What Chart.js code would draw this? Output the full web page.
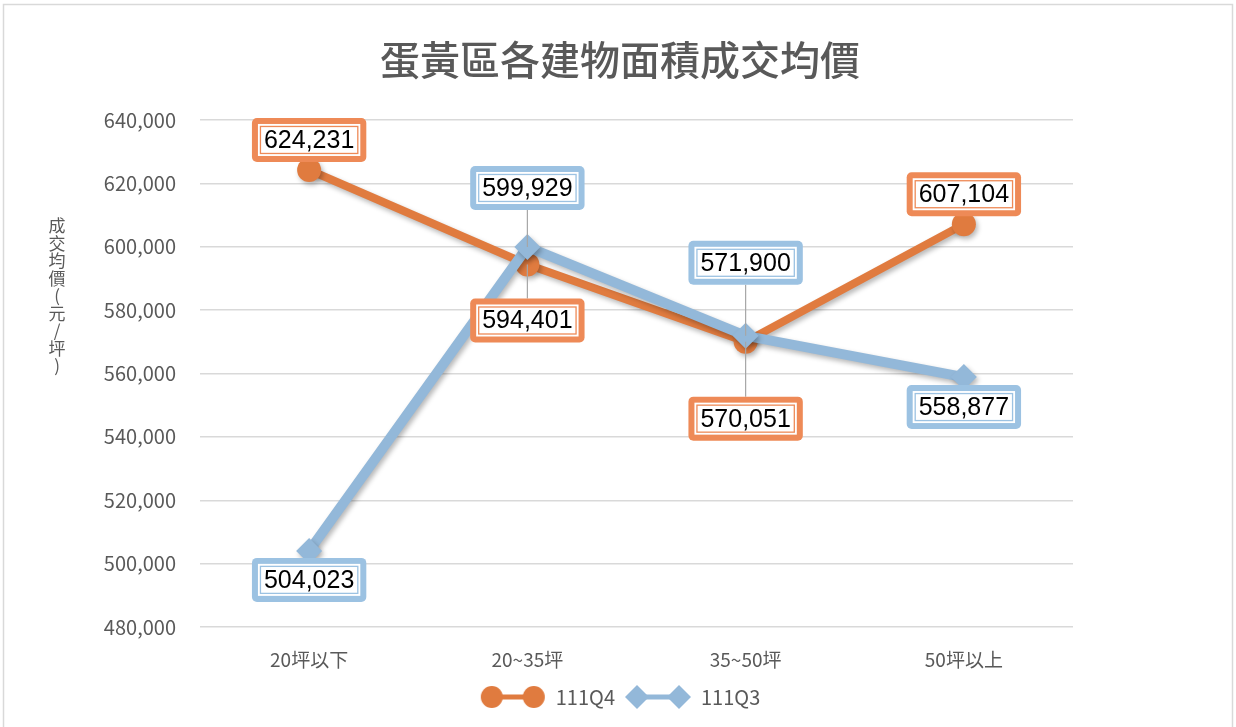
<!DOCTYPE html>
<html>
<head>
<meta charset="utf-8">
<script src="https://cdn.jsdelivr.net/npm/chart.js@4.4.0/dist/chart.umd.min.js"></script>
<style>
  body { margin: 0; background: #fff; }
  #wrap { width: 1236px; height: 727px; }
</style>
</head>
<body>
<div id="wrap"><canvas id="price_chart" width="1236" height="727"></canvas></div>
<script>
// 面積分類
const categories = ["20坪以下", "20~35坪", "35~50坪", "50坪以上"];
// 成交均價 (元/坪)
const q4Values = [624231, 594401, 570051, 607104];
const q3Values = [504023, 599929, 571900, 558877];
const chartTitle = "蛋黃區各建物面積成交均價";
const yTitle = "成交均價(元/坪)";

// label placement (px from point, vertical)
const q4LabelOffset = [-30, 56, 77, -30];
const q3LabelOffset = [29, -59, -73, 30];

const ORANGE = "#E07B3F";
const ORANGE_BOX = "#EE8A57";
const BLUE = "#93B8D9";
const BLUE_BOX = "#9CC2E2";
const GRAY = "#595959";
const CJK = "'Noto Sans CJK TC', 'Noto Sans', sans-serif";

function makeLegendIcon(color, style) {
  let c = document.createElement("canvas");
  c.width = 66;
  c.height = 26;
  let g = c.getContext("2d");
  g.strokeStyle = color;
  g.fillStyle = color;
  g.lineWidth = 5;
  g.beginPath();
  g.moveTo(12, 13);
  g.lineTo(54, 13);
  g.stroke();
  [12, 54].forEach(function (x) {
    g.beginPath();
    if (style === "circle") {
      g.arc(x, 13, 11, 0, Math.PI * 2);
    } else {
      g.moveTo(x, 1);
      g.lineTo(x + 12, 13);
      g.lineTo(x, 25);
      g.lineTo(x - 12, 13);
      g.closePath();
    }
    g.fill();
  });
  return c;
}

const legendIcons = [makeLegendIcon(ORANGE, "circle"), makeLegendIcon(BLUE, "diamond")];

function roundRect(ctx, x, y, w, h, r) {
  ctx.beginPath();
  ctx.moveTo(x + r, y);
  ctx.arcTo(x + w, y, x + w, y + h, r);
  ctx.arcTo(x + w, y + h, x, y + h, r);
  ctx.arcTo(x, y + h, x, y, r);
  ctx.arcTo(x, y, x + w, y, r);
  ctx.closePath();
}

const frame = {
  id: "frame",
  beforeDraw(chart) {
    let ctx = chart.ctx;
    ctx.save();
    ctx.fillStyle = "#fff";
    ctx.fillRect(0, 0, chart.width, chart.height);
    ctx.strokeStyle = "#d9d9d9";
    ctx.lineWidth = 1.5;
    ctx.strokeRect(3.5, 4.5, 1229, 740);
    // vertical axis title, one glyph per row
    ctx.fillStyle = GRAY;
    ctx.font = "17px " + CJK;
    ctx.textAlign = "center";
    ctx.textBaseline = "middle";
    let chars = Array.from(yTitle);
    chars.forEach(function (ch, i) {
      ctx.fillText(ch, 57, 226 + i * 17.5);
    });
    ctx.restore();
  },
};

const lineShadow = {
  id: "lineShadow",
  beforeDatasetDraw(chart) {
    let ctx = chart.ctx;
    ctx.save();
    ctx.shadowColor = "rgba(0,0,0,0.28)";
    ctx.shadowBlur = 5;
    ctx.shadowOffsetX = 2;
    ctx.shadowOffsetY = 3;
  },
  afterDatasetDraw(chart) {
    chart.ctx.restore();
  },
};

const boxLabels = {
  id: "boxLabels",
  afterDraw(chart) {
    let ctx = chart.ctx;
    let offsets = [q4LabelOffset, q3LabelOffset];
    let boxColors = [ORANGE_BOX, BLUE_BOX];
    ctx.save();
    ctx.font = "25px 'Liberation Sans', Arial, sans-serif";
    ctx.textAlign = "center";
    ctx.textBaseline = "middle";
    chart.data.datasets.forEach(function (ds, di) {
      let meta = chart.getDatasetMeta(di);
      meta.data.forEach(function (pt, i) {
        let text = ds.data[i].toLocaleString("en-US");
        let cx = pt.x;
        let cy = pt.y + offsets[di][i];
        let w = ctx.measureText(text).width + 24;
        let h = 44;
        let x0 = cx - w / 2;
        let y0 = cy - h / 2;
        if (Math.abs(offsets[di][i]) > 40) {
          ctx.strokeStyle = "#a6a6a6";
          ctx.lineWidth = 1.2;
          ctx.beginPath();
          ctx.moveTo(pt.x, pt.y);
          ctx.lineTo(cx, offsets[di][i] < 0 ? y0 + h : y0);
          ctx.stroke();
        }
        ctx.fillStyle = boxColors[di];
        roundRect(ctx, x0, y0, w, h, 5);
        ctx.fill();
        ctx.fillStyle = "#fff";
        ctx.fillRect(x0 + 6, y0 + 6, w - 12, h - 12);
        ctx.strokeStyle = boxColors[di];
        ctx.lineWidth = 1.3;
        ctx.strokeRect(x0 + 8.5, y0 + 8.5, w - 17, h - 17);
        ctx.fillStyle = "#000";
        ctx.fillText(text, cx, cy + 1);
      });
    });
    ctx.restore();
  },
};

new Chart(document.getElementById("price_chart"), {
  type: "line",
  data: {
    labels: categories,
    datasets: [
      {
        label: "111Q4",
        data: q4Values,
        borderColor: ORANGE,
        backgroundColor: ORANGE,
        borderWidth: 8,
        pointStyle: "circle",
        pointRadius: 12,
        pointBorderWidth: 0,
        order: 1,
      },
      {
        label: "111Q3",
        data: q3Values,
        borderColor: BLUE,
        backgroundColor: BLUE,
        borderWidth: 10,
        pointStyle: "rectRot",
        pointRadius: 13,
        pointBorderWidth: 0,
        order: 0,
      },
    ],
  },
  options: {
    responsive: false,
    animation: false,
    layout: { padding: { top: 10, left: 4, right: 0, bottom: 10 } },
    plugins: {
      title: {
        display: true,
        text: chartTitle,
        color: GRAY,
        font: { family: CJK, size: 40, weight: "500" },
        padding: { top: 26, bottom: 36 },
      },
      legend: {
        position: "bottom",
        labels: {
          color: GRAY,
          font: { family: CJK, size: 20 },
          usePointStyle: true,
          pointStyleWidth: 66,
          boxHeight: 20,
          padding: 10,
          sort: function (a, b) {
            return a.datasetIndex - b.datasetIndex;
          },
          generateLabels: function (chart) {
            let items = Chart.defaults.plugins.legend.labels.generateLabels(chart);
            items.forEach(function (it) {
              it.pointStyle = legendIcons[it.datasetIndex];
            });
            return items;
          },
        },
      },
      tooltip: { enabled: false },
    },
    scales: {
      x: {
        offset: true,
        grid: { display: false },
        border: { display: false },
        ticks: { color: GRAY, font: { family: CJK, size: 19 }, padding: 13 },
        afterFit: function (s) {
          s.height = 50;
        },
      },
      y: {
        min: 480000,
        max: 640000,
        grid: { color: "#d9d9d9", lineWidth: 1.5, drawTicks: false },
        border: { display: false },
        ticks: {
          stepSize: 20000,
          color: GRAY,
          font: { family: CJK, size: 20 },
          padding: 24,
          callback: function (v) {
            return v.toLocaleString("en-US");
          },
        },
        afterFit: function (s) {
          s.width = 196;
        },
      },
      yRight: {
        position: "right",
        grid: { display: false },
        border: { display: false },
        ticks: { display: false },
        afterFit: function (s) {
          s.width = 163;
        },
      },
    },
  },
  plugins: [frame, lineShadow, boxLabels],
});
</script>
</body>
</html>
